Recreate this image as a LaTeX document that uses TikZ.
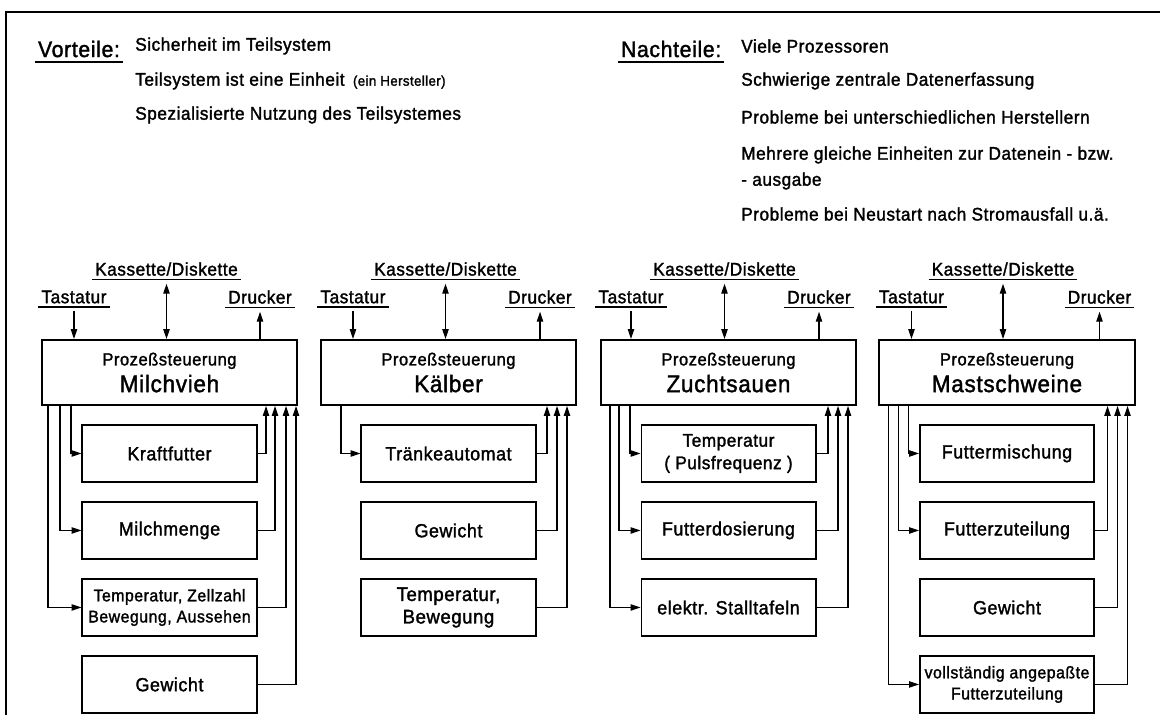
\documentclass[tikz,border=0pt]{standalone}
\usepackage{fontspec}
\setmainfont{Liberation Sans}[FakeBold=1.6,FakeStretch=0.94,LetterSpace=3]
\usepackage{tikz}
\usetikzlibrary{calc}
\usetikzlibrary{arrows.meta, positioning}

\begin{document}
\begin{tikzpicture}[x=0.025cm,y=-0.025cm,node distance=0.45cm,
                    >={Triangle[length=7pt,width=4.5pt]},
                    proc/.style={draw,line width=1.4pt,minimum width=6.375cm,minimum height=1.625cm,
                      align=center,inner sep=0pt,font=\fontsize{12.5}{19}\selectfont},
                    unit/.style={draw,line width=1.4pt,minimum width=4.35cm,minimum height=1.425cm,
                      align=center,inner sep=0pt,font=\fontsize{13.5}{16}\selectfont},
                    dev/.style={inner xsep=2pt,inner ysep=2.5pt,font=\fontsize{13}{16}\selectfont,
                      append after command={(\tikzlastnode.south west) edge[line width=1pt] (\tikzlastnode.south east)}},
                    txt/.style={anchor=west,inner sep=0pt,font=\fontsize{13}{16}\selectfont},
                    head/.style={anchor=west,inner xsep=2pt,inner ysep=3pt,font=\fontsize{16}{18}\selectfont,
                      append after command={(\tikzlastnode.south west) edge[line width=1.6pt] (\tikzlastnode.south east)}},
                    wire/.style={line width=0.8pt}]

  \useasboundingbox (0,0) rectangle (1163,715);
  \draw[line width=2pt] (6,715) -- (6,12) -- (1160,12);

  % Vorteile / Nachteile
  \node[head] (V) at (35,49) {Vorteile:};
  \node[txt] (v1) at (135,46) {Sicherheit im Teilsystem};
  \node[txt] (v2) at (135,81) {Teilsystem ist eine Einheit \,{\fontsize{10}{12}\selectfont(ein Hersteller)}};
  \node[txt] (v3) at (135,115) {Spezialisierte Nutzung des Teilsystemes};

  \node[head] (N) at (618,49) {Nachteile:};
  \node[txt] (n1) at (741,46) {Viele Prozessoren};
  \node[txt] (n2) at (741,81) {Schwierige zentrale Datenerfassung};
  \node[txt] (n3) at (741,117) {Probleme bei unterschiedlichen Herstellern};
  \node[txt] (n4) at (741,155) {Mehrere gleiche Einheiten zur Datenein - bzw.};
  \node[txt] (n5) at (741,181) {- ausgabe};
  \node[txt] (n6) at (741,214) {Probleme bei Neustart nach Stromausfall u.ä.};

  % Milchvieh
  \node[proc] (m1) at (169.5,372.5) {Prozeßsteuerung\\{\fontsize{17}{19}\selectfont Milchvieh}};
  \node[unit] (a1) [below=of m1] {Kraftfutter};
  \node[unit] (a2) [below=of a1] {Milchmenge};
  \node[unit,font=\fontsize{12}{15}\selectfont] (a3) [below=of a2] {Temperatur, Zellzahl\\Bewegung, Aussehen};
  \node[unit] (a4) [below=of a3] {Gewicht};

  \node[dev] (t1) at ($(m1.north west)+(33,-42)$) {Tastatur};
  \node[dev] (k1) at ($(m1.north)+(-3,-70)$) {Kassette/Diskette};
  \node[dev] (p1) at ($(m1.north east)+(-38,-42)$) {Drucker};

  \draw[wire,->,shorten <=3pt] (t1.south) -- (t1.south |- m1.north);
  \draw[wire,<->,shorten <=3pt] (k1.south) -- (k1.south |- m1.north);
  \draw[wire,->,shorten >=3pt] (p1.south |- m1.north) -- (p1.south);

  \draw[wire,->] ($(m1.south west)+(30,0)$) |- (a1);
  \draw[wire,->] ($(m1.south west)+(19,0)$) |- (a2);
  \draw[wire,->] ($(m1.south west)+(7,0)$) |- (a3);
  \draw[wire,->] (a1) -| ($(m1.south east)+(-32,0)$);
  \draw[wire,->] (a2) -| ($(m1.south east)+(-23,0)$);
  \draw[wire,->] (a3) -| ($(m1.south east)+(-12,0)$);
  \draw[wire,->] (a4) -| ($(m1.south east)+(-2,0)$);

  % Kaelber
  \node[proc] (m2) at (448.5,372.5) {Prozeßsteuerung\\{\fontsize{17}{19}\selectfont Kälber}};
  \node[unit] (b1) [below=of m2] {Tränkeautomat};
  \node[unit] (b2) [below=of b1] {Gewicht};
  \node[unit,font=\fontsize{14}{16}\selectfont] (b3) [below=of b2] {Temperatur,\\Bewegung};

  \node[dev] (t2) at ($(m2.north west)+(33,-42)$) {Tastatur};
  \node[dev] (k2) at ($(m2.north)+(-3,-70)$) {Kassette/Diskette};
  \node[dev] (p2) at ($(m2.north east)+(-37,-42)$) {Drucker};

  \draw[wire,->,shorten <=3pt] (t2.south) -- (t2.south |- m2.north);
  \draw[wire,<->,shorten <=3pt] (k2.south) -- (k2.south |- m2.north);
  \draw[wire,->,shorten >=3pt] (p2.south |- m2.north) -- (p2.south);

  \draw[wire,->] ($(m2.south west)+(21,0)$) |- (b1);
  \draw[wire,->] (b1) -| ($(m2.south east)+(-30,0)$);
  \draw[wire,->] (b2) -| ($(m2.south east)+(-20,0)$);
  \draw[wire,->] (b3) -| ($(m2.south east)+(-10,0)$);

  % Zuchtsauen
  \node[proc] (m3) at (728.5,372.5) {Prozeßsteuerung\\{\fontsize{17}{19}\selectfont Zuchtsauen}};
  \node[unit,font=\fontsize{13}{16}\selectfont] (c1) [below=of m3] {Temperatur\\( Pulsfrequenz )};
  \node[unit] (c2) [below=of c1] {Futterdosierung};
  \node[unit] (c3) [below=of c2] {elektr. Stalltafeln};

  \node[dev] (t3) at ($(m3.north west)+(31,-42)$) {Tastatur};
  \node[dev] (k3) at ($(m3.north)+(-4,-70)$) {Kassette/Diskette};
  \node[dev] (p3) at ($(m3.north east)+(-38,-42)$) {Drucker};

  \draw[wire,->,shorten <=3pt] (t3.south) -- (t3.south |- m3.north);
  \draw[wire,<->,shorten <=3pt] (k3.south) -- (k3.south |- m3.north);
  \draw[wire,->,shorten >=3pt] (p3.south |- m3.north) -- (p3.south);

  \draw[wire,->] ($(m3.south west)+(30,0)$) |- (c1);
  \draw[wire,->] ($(m3.south west)+(19,0)$) |- (c2);
  \draw[wire,->] ($(m3.south west)+(10,0)$) |- (c3);
  \draw[wire,->] (c1) -| ($(m3.south east)+(-29,0)$);
  \draw[wire,->] (c2) -| ($(m3.south east)+(-19,0)$);
  \draw[wire,->] (c3) -| ($(m3.south east)+(-9,0)$);

  % Mastschweine
  \node[proc] (m4) at (1007,372.5) {Prozeßsteuerung\\{\fontsize{17}{19}\selectfont Mastschweine}};
  \node[unit] (d1) [below=of m4] {Futtermischung};
  \node[unit] (d2) [below=of d1] {Futterzuteilung};
  \node[unit] (d3) [below=of d2] {Gewicht};
  \node[unit,font=\fontsize{12}{15}\selectfont] (d4) [below=of d3] {vollständig angepaßte\\Futterzuteilung};

  \node[dev] (t4) at ($(m4.north west)+(33,-42)$) {Tastatur};
  \node[dev] (k4) at ($(m4.north)+(-4,-70)$) {Kassette/Diskette};
  \node[dev] (p4) at ($(m4.north east)+(-36,-42)$) {Drucker};

  \draw[wire,->,shorten <=3pt] (t4.south) -- (t4.south |- m4.north);
  \draw[wire,<->,shorten <=3pt] (k4.south) -- (k4.south |- m4.north);
  \draw[wire,->,shorten >=3pt] (p4.south |- m4.north) -- (p4.south);

  \draw[wire,->] ($(m4.south west)+(30,0)$) |- (d1);
  \draw[wire,->] ($(m4.south west)+(20,0)$) |- (d2);
  \draw[wire,->] ($(m4.south west)+(10,0)$) |- (d4);
  \draw[wire,->] (d2) -| ($(m4.south east)+(-28,0)$);
  \draw[wire,->] (d3) -| ($(m4.south east)+(-18,0)$);
  \draw[wire,->] (d4) -| ($(m4.south east)+(-8,0)$);
\end{tikzpicture}
\end{document}
